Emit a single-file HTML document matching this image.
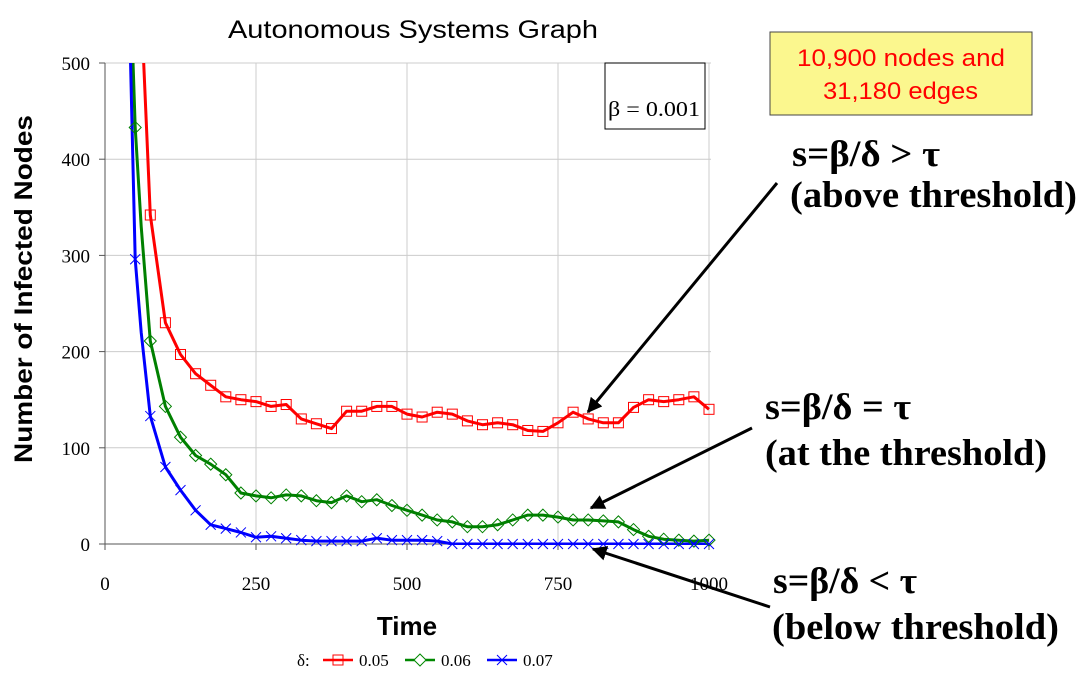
<!DOCTYPE html>
<html><head><meta charset="utf-8"><style>
html,body{margin:0;padding:0;background:#fff;}
svg{display:block;}
</style></head><body>
<svg id="chart" width="1084" height="674" viewBox="0 0 1084 674" xmlns="http://www.w3.org/2000/svg">
<defs>
<clipPath id="plotclip"><rect x="105" y="63" width="606" height="482"/></clipPath>
<marker id="ah" viewBox="0 0 10 10" refX="9" refY="5" markerWidth="5" markerHeight="5" orient="auto"><path d="M0,0 L10,5 L0,10 z" fill="#000"/></marker>
</defs>
<text x="228" y="38" font-family="Liberation Sans, sans-serif" font-size="25" textLength="370" lengthAdjust="spacingAndGlyphs">Autonomous Systems Graph</text>
<g id="grid"></g>
<g id="axes"></g>
<g id="series" clip-path="url(#plotclip)"></g>
<g id="markers"></g>
<text transform="translate(32,463) rotate(-90)" font-family="Liberation Sans, sans-serif" font-weight="bold" font-size="25" textLength="348" lengthAdjust="spacingAndGlyphs">Number of Infected Nodes</text>
<text x="407" y="635" font-family="Liberation Sans, sans-serif" font-weight="bold" font-size="26" text-anchor="middle">Time</text>
<g>
<rect x="605" y="63" width="100" height="66" fill="#fff" stroke="#000" stroke-width="1"/>
<text x="608" y="116" font-family="Liberation Serif, serif" font-size="21" textLength="92" lengthAdjust="spacingAndGlyphs">β =  0.001</text>
</g>
<g font-family="Liberation Serif, serif" font-size="17">
<text x="297" y="666">δ:</text>
<line x1="323" y1="660" x2="353" y2="660" stroke="#f00" stroke-width="2.5"/><rect x="333" y="655" width="10" height="10" fill="none" stroke="#f00"/>
<text x="359" y="666">0.05</text>
<line x1="405" y1="660" x2="435" y2="660" stroke="#080" stroke-width="2.5"/><path d="M420,654 L426,660 L420,666 L414,660 z" fill="#fff" stroke="#080"/>
<text x="441" y="666">0.06</text>
<line x1="487" y1="660" x2="517" y2="660" stroke="#00f" stroke-width="2.5"/><path d="M497,655 L507,665 M507,655 L497,665" stroke="#00f"/>
<text x="523" y="666">0.07</text>
</g>
<g>
<rect x="770" y="32" width="262" height="83" fill="#fbf78e" stroke="#444" stroke-width="1"/>
<text x="797" y="66" font-family="Liberation Sans, sans-serif" font-size="24" fill="#f00" textLength="208" lengthAdjust="spacingAndGlyphs">10,900 nodes and</text>
<text x="823" y="99" font-family="Liberation Sans, sans-serif" font-size="24" fill="#f00" textLength="155" lengthAdjust="spacingAndGlyphs">31,180 edges</text>
</g>
<g font-family="Liberation Serif, serif" font-weight="bold" font-size="37">
<text x="792" y="166" textLength="148" lengthAdjust="spacingAndGlyphs">s=β/δ &gt; τ</text>
<text x="790" y="207" textLength="287" lengthAdjust="spacingAndGlyphs">(above threshold)</text>
<text x="765" y="419" textLength="146" lengthAdjust="spacingAndGlyphs">s=β/δ = τ</text>
<text x="765" y="465" textLength="282" lengthAdjust="spacingAndGlyphs">(at the threshold)</text>
<text x="773" y="593" textLength="144" lengthAdjust="spacingAndGlyphs">s=β/δ &lt; τ</text>
<text x="772" y="639" textLength="287" lengthAdjust="spacingAndGlyphs">(below threshold)</text>
<line x1="777" y1="183" x2="588" y2="412" stroke="#000" stroke-width="3" marker-end="url(#ah)"/>
<line x1="752" y1="428" x2="591" y2="508" stroke="#000" stroke-width="3" marker-end="url(#ah)"/>
<line x1="770" y1="607" x2="593" y2="549" stroke="#000" stroke-width="3" marker-end="url(#ah)"/>
</g>
</svg>
<script>
const times = [40,50,60,75,100,125,150,175,200,225,250,275,300,325,350,375,400,425,450,475,500,525,550,575,600,625,650,675,700,725,750,775,800,825,850,875,900,925,950,975,1000];
const red05 = [900,760,560,342,230,197,177,165,153,150,148,143,145,130,125,120,138,138,143,143,135,132,137,135,128,124,126,124,118,117,126,137,130,126,126,142,150,148,150,153,140];
const green06 = [620,433,330,211,143,111,92,83,72,53,50,48,51,50,45,43,50,44,46,40,35,30,25,23,18,18,20,25,30,30,28,25,25,24,23,15,8,5,4,3,4];
const blue07 = [560,296,220,133,80,56,35,20,16,12,7,8,6,4,3,3,3,3,6,4,4,4,3,0,0,0,0,0,0,0,0,0,0,0,0,0,0,0,0,0,0];
const xTicks = [0,250,500,750,1000];
const yTicks = [0,100,200,300,400,500];
const NS='http://www.w3.org/2000/svg';
const X=t=>105+t*0.604, Y=v=>544-v*0.962;
function mk(tag,attrs,parent){const e=document.createElementNS(NS,tag);for(const k in attrs)e.setAttribute(k,attrs[k]);parent.appendChild(e);return e;}
const grid=document.getElementById('grid'),axes=document.getElementById('axes'),ser=document.getElementById('series'),mg=document.getElementById('markers');
xTicks.forEach(t=>{
 if(t>0){const g=mk('line',{x1:X(t),y1:63,x2:X(t),y2:544,stroke:'#ccc','stroke-width':1},grid);
 
 }
 mk('line',{x1:X(t),y1:544,x2:X(t),y2:550,stroke:'#555'},axes);
 const l=mk('text',{x:X(t),y:590,'font-family':'Liberation Serif, serif','font-size':19,'text-anchor':'middle'},axes);
 l.textContent=t;
 
 
});
yTicks.forEach(v=>{
 if(v>0){const g=mk('line',{x1:105,y1:Y(v),x2:711,y2:Y(v),stroke:'#ccc','stroke-width':1},grid);
 
 }
 mk('line',{x1:99,y1:Y(v),x2:105,y2:Y(v),stroke:'#555'},axes);
 const l=mk('text',{x:90,y:Y(v)+7,'font-family':'Liberation Serif, serif','font-size':19,'text-anchor':'end'},axes);
 l.textContent=v;
 
 
});
mk('line',{x1:105,y1:63,x2:105,y2:550,stroke:'#555'},axes);
mk('line',{x1:99,y1:544,x2:711,y2:544,stroke:'#555'},axes);
function series(vals,color,kind,name){
 const d=times.map((t,i)=>(i?'L':'M')+X(t).toFixed(1)+','+Y(vals[i]).toFixed(1)).join(' ');
 const p=mk('path',{d:d,fill:'none',stroke:color,'stroke-width':3,'stroke-linejoin':'round'},ser);
 
 
 times.forEach((t,i)=>{
  if(t%25!==0||vals[i]>505)return;
  const x=X(t),y=Y(vals[i]);let m;
  if(kind==='sq')m=mk('rect',{x:x-5,y:y-5,width:10,height:10,fill:'none',stroke:color},mg);
  else if(kind==='dia')m=mk('path',{d:`M${x},${y-6} L${x+6},${y} L${x},${y+6} L${x-6},${y} z`,fill:'none',stroke:color},mg);
  else m=mk('path',{d:`M${x-5},${y-5} L${x+5},${y+5} M${x+5},${y-5} L${x-5},${y+5}`,stroke:color},mg);
  
  
 });
}
series(green06,'#008000','dia','delta-0.06');
series(blue07,'#0000ff','x','delta-0.07');
series(red05,'#ff0000','sq','delta-0.05');
</script>
</body></html>
